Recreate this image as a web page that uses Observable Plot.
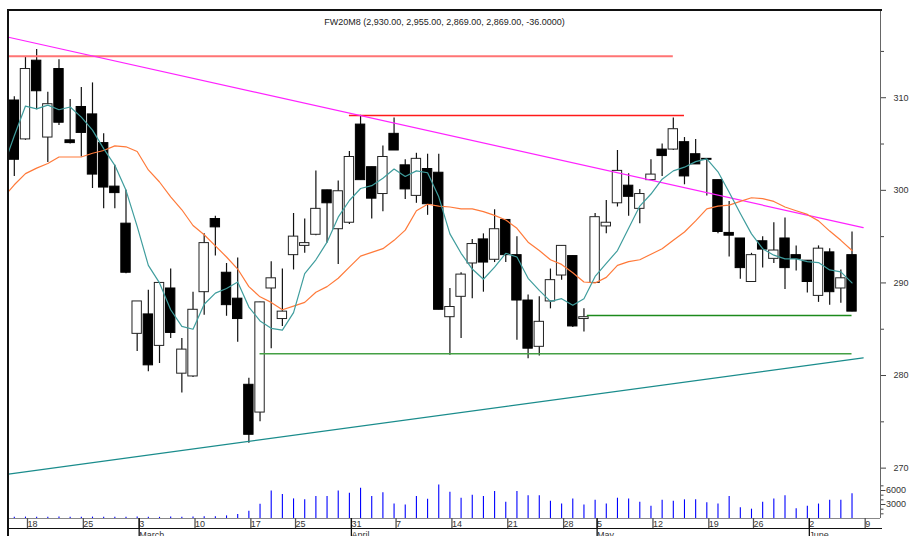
<!DOCTYPE html>
<html>
<head>
<meta charset="utf-8">
<script src="https://cdn.jsdelivr.net/npm/d3@7"></script>
<script src="https://cdn.jsdelivr.net/npm/@observablehq/plot@0.6"></script>
<style>
html, body { margin: 0; padding: 0; background: #fff; overflow: hidden; }
#chart { position: relative; width: 909px; height: 536px; overflow: hidden; background: #fff;
  font-family: "Liberation Sans", Arial, sans-serif; }
#chart svg { display: block; }
.edge { position: absolute; background: #111; }
</style>
</head>
<body>
<div id="chart"></div>
<script>
// ---------- data (prices in index points / 10, as on the axis) ----------
const title = "FW20M8 (2,930.00, 2,955.00, 2,869.00, 2,869.00, -36.0000)";

const opens = [309.7,305.5,314.0,305.7,313.1,305.4,309.0,308.2,305.1,300.4,296.4,284.5,286.6,283.2,289.4,280.2,279.9,289.0,296.9,291.1,
  288.3,279.0,276.0,289.4,286.1,293.0,294.0,295.2,300.0,295.8,296.5,307.1,302.5,299.6,306.1,302.7,299.4,302.3,301.9,286.3,
  288.5,292.1,294.7,292.5,296.8,293.0,288.1,283.1,288.0,290.8,292.9,286.1,290.0,296.1,298.6,300.5,298.0,301.1,304.4,304.4,
  305.2,303.9,303.4,301.1,295.4,294.8,290.1,294.5,292.6,294.8,293.0,292.4,288.6,293.3,289.4,293.0];
const highs = [310.1,314.4,315.2,310.6,314.1,309.8,311.1,311.6,306.1,302.7,300.0,288.0,289.2,290.0,291.5,284.0,289.0,295.3,297.2,292.1,
  292.7,279.7,287.9,292.3,291.5,297.5,296.9,302.1,300.0,301.0,304.2,308.1,302.5,304.8,307.8,303.3,304.0,303.9,303.9,289.4,
  291.1,294.7,295.3,297.9,296.8,295.0,288.7,288.5,291.5,294.0,292.9,287.2,297.5,298.9,304.3,301.8,300.1,303.3,305.0,307.8,
  305.7,305.5,303.4,301.1,298.8,294.8,293.2,295.0,296.5,297.0,294.0,292.4,294.0,293.7,291.4,295.5];
const lows = [301.5,305.4,308.7,303.0,307.0,305.0,303.6,300.2,298.0,298.0,291.0,282.6,280.4,281.3,284.0,278.1,279.8,286.5,292.9,286.4,
  283.6,272.7,275.0,282.9,285.3,291.4,293.2,295.1,294.3,292.0,296.3,301.1,296.9,297.7,304.3,299.0,298.6,297.3,287.1,282.2,
  284.0,288.3,289.0,292.2,292.2,283.8,281.8,282.1,287.2,290.3,285.2,284.7,290.0,295.3,298.2,297.2,296.4,301.1,301.5,304.3,
  300.6,302.8,299.4,295.3,292.8,290.4,290.1,291.6,292.1,289.3,291.3,288.9,287.9,287.6,287.8,286.9];
const closes = [303.3,313.1,310.7,309.3,307.3,305.1,306.2,301.7,300.3,299.7,291.1,288.0,281.1,290.0,284.6,282.8,287.1,294.3,296.0,287.6,
  286.1,273.6,287.9,290.5,286.9,295.0,294.3,298.0,298.6,299.9,303.6,301.1,299.1,303.6,304.3,300.1,303.4,298.5,287.1,287.4,
  290.9,294.2,292.2,295.8,293.0,288.1,282.9,285.8,290.3,294.0,285.3,286.3,297.1,296.5,302.1,299.3,299.6,301.7,303.7,306.6,
  301.5,302.8,303.3,295.5,295.1,291.6,293.0,293.6,293.5,291.6,292.6,290.1,293.7,289.0,290.5,286.9];
const volumes = [250,300,250,250,300,250,250,300,250,250,250,300,250,250,300,250,300,350,350,560,
  850,1550,3050,5900,5150,4200,4000,4700,4700,5900,5400,6500,4700,5500,3100,2900,4700,4100,7200,5600,
  4350,5000,4700,5800,3500,5800,4900,4900,3700,3100,4200,2900,3900,3100,4350,4200,3500,2600,3900,3700,
  4000,4000,3400,3100,4700,2300,2000,3500,4200,4900,2100,2600,3100,3900,3900,5300];

// moving averages, for sessions -1 .. 75
const maFast = [302.5,305.9,309.1,308.8,309.2,308.7,309.0,307.9,306.5,304.5,302.7,300.0,296.1,291.9,290.0,287.1,285.3,285.0,287.7,288.9,
  289.4,290.1,287.4,285.9,285.1,284.9,286.8,291.0,292.5,294.4,297.1,298.9,300.2,300.5,301.3,302.3,301.5,302.1,301.9,299.3,
  295.3,293.2,291.5,290.4,291.7,293.2,292.8,290.5,289.2,288.0,288.3,287.6,288.3,290.7,292.1,293.5,295.9,298.3,299.6,301.2,
  302.1,302.5,303.1,303.4,302.0,299.8,297.5,295.3,293.7,293.0,292.6,292.6,292.3,292.2,291.4,291.2,290.0];
const maSlow = [299.2,300.6,301.8,302.4,302.9,303.6,303.6,303.6,304.0,304.3,304.8,304.7,304.2,302.2,300.9,299.3,297.9,296.2,295.2,294.0,
  292.8,291.5,289.6,288.5,287.9,287.1,287.5,287.9,289.0,289.6,290.5,291.7,292.9,293.3,293.7,294.6,295.7,297.8,298.5,298.3,
  298.2,298.0,298.0,297.7,297.3,296.8,295.9,294.4,293.5,292.5,292.0,291.1,290.1,290.0,290.6,291.9,292.3,292.5,293.1,293.7,
  294.6,295.5,296.7,298.0,298.3,298.4,298.8,299.2,299.1,298.8,298.2,297.8,297.4,296.7,295.6,294.6,293.5];

// drawn trend lines: session index and price at each end
const fallingTrendIdx = [-0.52, 76];
const fallingTrendVal = [316.53, 295.98];
const risingTrendIdx = [-0.52, 76];
const risingTrendVal = [269.36, 281.91];
const levelValues = [314.48, 308.08, 282.34, 286.48];
const levelFrom = [-0.52, 30, 22, 51.3];
const levelTo = [59, 60, 75, 75];

// axes
const weekTickIdx = [1, 6, 11, 16, 21, 25, 30, 34, 39, 44, 49, 52, 57, 62, 66, 71, 76];
const weekTickLabels = ["18","25","3","10","17","25","31","7","14","21","28","5","12","19","26","2","9"];
const monthTickIdx = [11, 30, 52, 71];
const monthLabels = ["March", "April", "May", "June"];
const priceTicks = [270, 280, 290, 300, 310];
const priceMinorTicks = [275, 285, 295, 305, 315];
const volumeTicks = [3000, 6000];
const volumeMinorTicks = [1000, 2000, 4000, 5000, 7000];

// ---------- build ----------
const X_DOMAIN = [-0.52, 77.55];
const Y_DOMAIN = [268.34, 319.42];
const VOL_DOMAIN = [0, 7500];

const candles = opens.map((o, i) => ({i, o, h: highs[i], l: lows[i], c: closes[i]}));
const vols = volumes.map((v, i) => ({i, v}));
const fastLine = maFast.map((v, k) => ({i: k - 1, v}));
const slowLine = maSlow.map((v, k) => ({i: k - 1, v}));
const falling = fallingTrendIdx.map((i, k) => ({i, v: fallingTrendVal[k]}));
const rising = risingTrendIdx.map((i, k) => ({i, v: risingTrendVal[k]}));
const levels = levelValues.map((v, k) => ({v, from: levelFrom[k], to: levelTo[k]}));
const levelStyles = [
  {stroke: "#ff7474", strokeWidth: 2},
  {stroke: "#ff1a1a", strokeWidth: 1.3},
  {stroke: "#44a044", strokeWidth: 1.5},
  {stroke: "#1c8a1c", strokeWidth: 1.3}
];

const font = "'Liberation Sans', Arial, sans-serif";

const main = Plot.plot({
  width: 909, height: 483,
  marginLeft: 8, marginRight: 29, marginTop: 10, marginBottom: 0,
  style: {fontFamily: font, fontSize: "9px", background: "#fff", color: "#333"},
  x: {domain: X_DOMAIN, axis: null},
  y: {domain: Y_DOMAIN, label: null},
  marks: [
    Plot.frame({stroke: "#666"}),
    Plot.ruleX(candles, {x: "i", y1: "l", y2: "h", stroke: "#111", strokeWidth: 1.2}),
    Plot.rect(candles.filter(d => d.c < d.o), {x1: d => d.i - 0.42, x2: d => d.i + 0.42, y1: "o", y2: "c", fill: "#000", stroke: "#000", strokeWidth: 1}),
    Plot.rect(candles.filter(d => d.c >= d.o), {x1: d => d.i - 0.42, x2: d => d.i + 0.42, y1: "o", y2: "c", fill: "#fff", stroke: "#222", strokeWidth: 1}),
    ...levels.map((d, k) => Plot.ruleY([d], {y: "v", x1: "from", x2: "to", ...levelStyles[k]})),
    Plot.line(falling, {x: "i", y: "v", stroke: "#ff22ff", strokeWidth: 1.2, clip: true}),
    Plot.line(rising, {x: "i", y: "v", stroke: "#1a8c8c", strokeWidth: 1.2, clip: true}),
    Plot.line(slowLine, {x: "i", y: "v", stroke: "#ff7a3a", strokeWidth: 1.2, clip: true}),
    Plot.line(fastLine, {x: "i", y: "v", stroke: "#3f9d9d", strokeWidth: 1.2, clip: true}),
    Plot.axisY(priceTicks, {anchor: "right", tickSize: 5, tickPadding: 8, textAnchor: "start", fontSize: 9, stroke: "#444", fill: "#333", label: null, tickFormat: d => String(d)}),
    Plot.axisY(priceMinorTicks, {anchor: "right", tickSize: 3, stroke: "#444", fill: "none", label: null}),
    Plot.text([title], {text: d => d, frameAnchor: "top", dy: 8, fontSize: 9, fill: "#222"})
  ]
});

const lower = Plot.plot({
  width: 909, height: 60,
  marginLeft: 8, marginRight: 29, marginTop: 0, marginBottom: 25,
  style: {fontFamily: font, fontSize: "9px", background: "transparent", color: "#333"},
  x: {domain: X_DOMAIN, label: null},
  y: {domain: VOL_DOMAIN, label: null},
  marks: [
    Plot.ruleY([VOL_DOMAIN[0]], {stroke: "#888"}),
    Plot.ruleX([X_DOMAIN[1]], {stroke: "#666"}),
    Plot.ruleX(vols, {x: "i", y1: 0, y2: "v", stroke: "#0000ff", strokeWidth: 1.1}),
    Plot.axisY(volumeTicks, {anchor: "right", tickSize: 4.5, tickPadding: 1, textAnchor: "start", fontSize: 9, stroke: "#444", fill: "#333", label: null, tickFormat: d => String(d)}),
    Plot.axisY(volumeMinorTicks, {anchor: "right", tickSize: 2.5, stroke: "#444", fill: "none", label: null}),
    Plot.axisX(weekTickIdx, {anchor: "bottom", tickSize: 11, tickPadding: -9, textAnchor: "start", dx: 2, fontSize: 9,
      stroke: "#555", strokeWidth: 1.3, fill: "#333", label: null, tickFormat: d => weekTickLabels[weekTickIdx.indexOf(d)]}),
    Plot.axisX(monthTickIdx, {anchor: "bottom", tickSize: 25, tickPadding: -12, textAnchor: "start", dx: 2, fontSize: 9,
      stroke: "#111", strokeWidth: 1.3, fill: "#333", label: null, tickFormat: d => monthLabels[monthTickIdx.indexOf(d)]})
  ]
});

const chart = document.getElementById("chart");
chart.appendChild(main);
chart.appendChild(lower);

// frame edges (decoration)
const edges = [
  {left: 7, top: 9, width: 875, height: 2},    // top border
  {left: 7, top: 9, width: 2, height: 527},    // left border
  {left: 8, top: 528, width: 874, height: 1}   // bottom of date row
];
for (const e of edges) {
  const d = document.createElement("div");
  d.className = "edge";
  Object.assign(d.style, {left: e.left + "px", top: e.top + "px", width: e.width + "px", height: e.height + "px"});
  chart.appendChild(d);
}
</script>
</body>
</html>
